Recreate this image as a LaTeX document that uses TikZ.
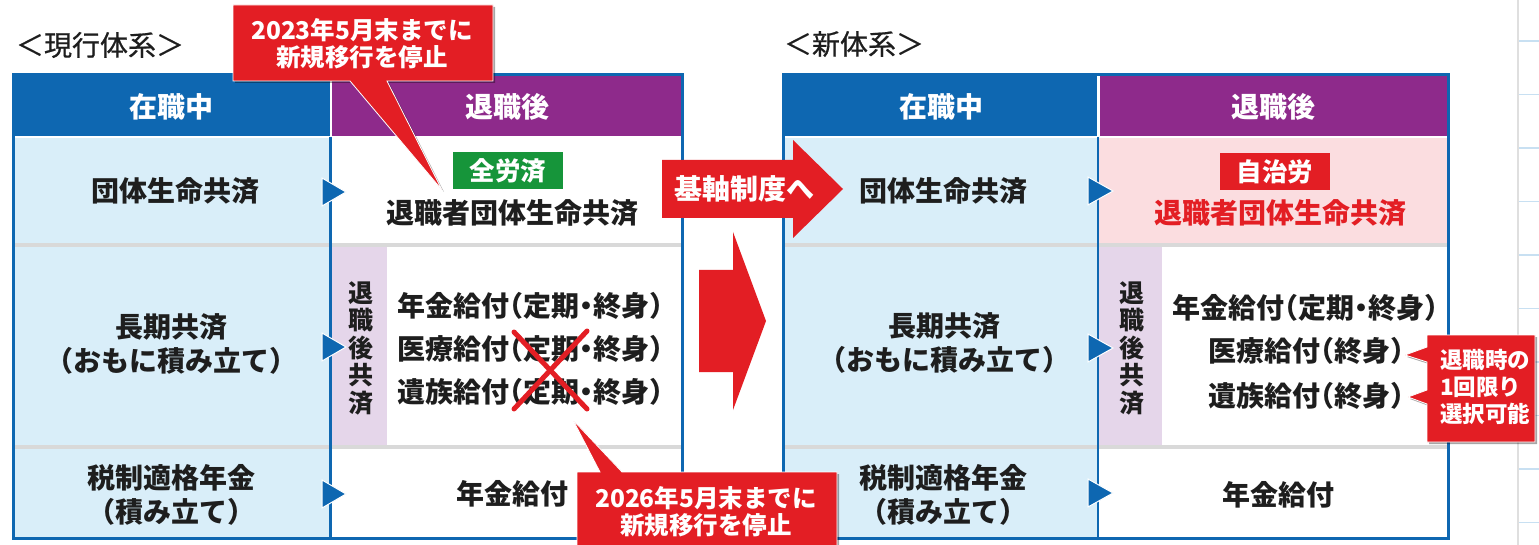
\documentclass[tikz,border=0pt]{standalone}
\usepackage{fontspec}
\setmainfont{Noto Sans CJK JP}
\newfontfamily\titlefont{Noto Sans CJK JP}[FakeBold=0.6]
\usetikzlibrary{shadows}
\definecolor{hblue}{RGB}{14,103,177}
\definecolor{hpurple}{RGB}{142,42,139}
\definecolor{cellblue}{RGB}{217,238,249}
\definecolor{colpurple}{RGB}{229,214,234}
\definecolor{cellpink}{RGB}{251,221,224}
\definecolor{cred}{RGB}{227,30,36}
\definecolor{tgreen}{RGB}{22,149,58}
\definecolor{sepgray}{RGB}{217,217,217}
\definecolor{ink}{RGB}{30,30,30}
\definecolor{lineblue}{RGB}{200,224,242}
\newcommand\jlp{\kern-.5em（}
\newcommand\jrp{）\kern-.5em}
\newcommand\jdt{\kern-.25em・\kern-.25em}
\begin{document}
\begin{tikzpicture}[x=1pt,y=-1pt,
  base/.style={inner sep=0pt, text=ink, align=center, font=\bfseries\fontsize{28}{34}\selectfont},
  hdr/.style={base, text=white, font=\bfseries\fontsize{28}{30}\selectfont},
  big/.style={base, font=\bfseries\fontsize{28}{32}\selectfont},
  vtext/.style={base, font=\bfseries\fontsize{25}{27.5}\selectfont},
  tagbox/.style={base, text=white, minimum width=110pt, minimum height=37pt, font=\bfseries\fontsize{25.5}{28}\selectfont},
  title/.style={inner sep=0pt, text=ink, font=\titlefont\fontsize{28}{30}\selectfont},
  calltext/.style={inner sep=0pt, text=white, align=center, font=\bfseries\fontsize{24.5}{27}\selectfont},
  callshape/.style={fill=cred, draw=white, line width=0.8pt, drop shadow={shadow xshift=2pt, shadow yshift=-2pt, opacity=0.35, fill=black}},
  tri/.style={fill=hblue, draw=white, line width=1pt},
  sep/.style={fill=sepgray},
  frame/.style={draw=hblue, line width=3pt},
  divider/.style={draw=hblue, line width=2.5pt}
]
\useasboundingbox (0,0) rectangle (1539,545);
\fill[white] (0,0) rectangle (1539,545);
% page strip at right
\draw[gray!25, line width=1.5pt] (1518,0) -- (1518,545);
\foreach \yy in {41,94.5,148,201.5,255,308.5,362,415.5,469,522.5}
  \draw[lineblue, line width=1.5pt] (1519,\yy) -- (1539,\yy);

% ===== left table =====
\fill[white] (13,75) rectangle (682,538);
\fill[hblue] (13,75) rectangle (329.5,136.5);
\fill[hpurple] (331.5,75) rectangle (682,136.5);
\fill[cellblue] (13,138) rectangle (329.5,538);
\fill[colpurple] (331.5,247) rectangle (387,445);
\fill[sep] (13,243) rectangle (682,247);
\fill[sep] (13,445) rectangle (682,449);
\draw[divider] (330.5,137) -- (330.5,538);
\draw[frame] (13,75) rectangle (682,538);

% ===== right table =====
\fill[white] (783,75) rectangle (1448,538);
\fill[hblue] (783,75) rectangle (1097,136.5);
\fill[hpurple] (1099.5,75) rectangle (1448,136.5);
\fill[cellblue] (783,138) rectangle (1097,538);
\fill[cellpink] (1099,138) rectangle (1448,243);
\fill[colpurple] (1099,247) rectangle (1162,445);
\fill[sep] (783,243) rectangle (1448,247);
\fill[sep] (783,445) rectangle (1448,449);
\draw[divider] (1098,137) -- (1098,538);
\draw[frame] (783,75) rectangle (1448,538);

% titles
\node[title] (t1) at (100,45) {＜現行体系＞};
\node[title] (t2) at (854,44) {＜新体系＞};

% left table texts
\node[hdr] (lh1) at (171,107) {在職中};
\node[hdr] (lh2) at (507,107) {退職後};
\node[base] (l11) at (175,191) {団体生命共済};
\node[tagbox, fill=tgreen] (ltag) at (508,171) {全労済};
\node[big] (l12) at (512,213) {退職者団体生命共済};
\node[base] (l21) at (171,344) {長期共済\\\jlp おもに積み立て\jrp};
\node[vtext] (l2v) at (361,348) {退\\職\\後\\共\\済};
\node[base] (l22) at (530,306) {年金給付\jlp 定期\jdt 終身\jrp};
\node[base] (l23) at (530,349) {医療給付\jlp 定期\jdt 終身\jrp};
\node[base] (l24) at (530,392) {遺族給付\jlp 定期\jdt 終身\jrp};
\node[base] (l31) at (171,495) {税制適格年金\\\jlp 積み立て\jrp};
\node[base] (l32) at (512,494) {年金給付};

% right table texts
\node[hdr] (rh1) at (941,107) {在職中};
\node[hdr] (rh2) at (1273,107) {退職後};
\node[base] (r11) at (943,191) {団体生命共済};
\node[tagbox, fill=cred] (rtag) at (1275,172) {自治労};
\node[big, text=cred] (r12) at (1280,213) {退職者団体生命共済};
\node[base] (r21) at (944,343) {長期共済\\\jlp おもに積み立て\jrp};
\node[vtext] (r2v) at (1132,348) {退\\職\\後\\共\\済};
\node[base] (r22) at (1305,308) {年金給付\jlp 定期\jdt 終身\jrp};
\node[base] (r23) at (1306,351) {医療給付\jlp 終身\jrp};
\node[base] (r24) at (1306,396) {遺族給付\jlp 終身\jrp};
\node[base] (r31) at (943,495) {税制適格年金\\\jlp 積み立て\jrp};
\node[base] (r32) at (1278,495) {年金給付};

% markers
\fill[tri] (322,178) -- (346,192) -- (322,206) -- cycle;
\fill[tri] (322,333) -- (346,347) -- (322,361) -- cycle;
\fill[tri] (322,480) -- (346,494) -- (322,508) -- cycle;
\fill[tri] (1088,177) -- (1113,191) -- (1088,205) -- cycle;
\fill[tri] (1088,334) -- (1113,348) -- (1088,362) -- cycle;
\fill[tri] (1088,479) -- (1113,493) -- (1088,507) -- cycle;

% red cross
\draw[cred, line width=5pt, line cap=round] (514,332) -- (587,409);
\draw[cred, line width=5pt, line cap=round] (587,331) -- (514,409);

% middle arrows
\fill[cred] (662,160) -- (793,160) -- (793,140) -- (843,189) -- (793,238) -- (793,218) -- (662,218) -- cycle;
\node[big, text=white] (ax) at (744,189) {基軸制度へ};
\fill[cred] (699,270) -- (733,270) -- (733,232) -- (766,321) -- (733,410) -- (733,372) -- (699,372) -- cycle;

% callouts
\coordinate (tip1) at (442,190);
\coordinate (tip2) at (573,420);
\coordinate (tip3a) at (1405,355);
\coordinate (tip3b) at (1408,397);
\path[callshape] (233,5) -- (493,5) -- (493,81) -- (387,81) -- (tip1) -- (350,81) -- (233,81) -- cycle;
\node[calltext] (c1) at (362,44) {2023年5月末までに\\新規移行を停止};
\path[callshape] (577,472) -- (600,472) -- (tip2) -- (622,472) -- (837,472) -- (837,550) -- (577,550) -- cycle;
\node[calltext] (c2) at (706,512) {2026年5月末までに\\新規移行を停止};
\path[callshape] (1427,335) -- (1535,335) -- (1535,442) -- (1427,442) -- (1427,404) -- (tip3b) -- (1427,390) -- (1427,362) -- (tip3a) -- (1427,347) -- cycle;
\node[calltext, align=left, anchor=west, font=\bfseries\fontsize{22.5}{27}\selectfont] (c3) at (1440,387) {退職時の\\1回限り\\選択可能};
\end{tikzpicture}
\end{document}
